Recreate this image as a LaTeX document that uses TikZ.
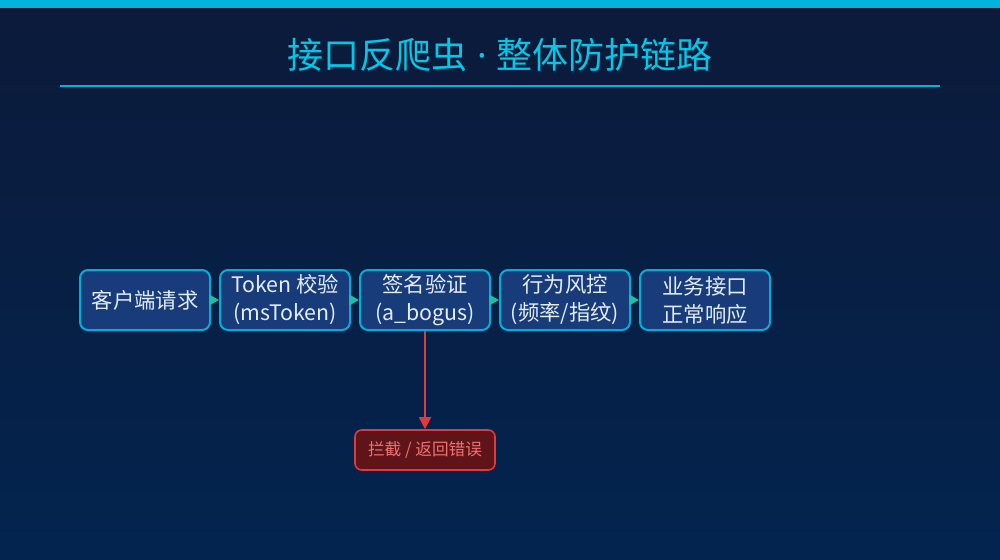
\documentclass[tikz,border=0pt]{standalone}
\usepackage{fontspec}
\setmainfont{Noto Sans CJK SC}
\newfontfamily\latinfont{Noto Sans}
\usetikzlibrary{arrows.meta}
\definecolor{bgtop}{HTML}{0C1A3A}
\definecolor{bgbot}{HTML}{03244F}
\definecolor{accent}{HTML}{00B4DC}
\definecolor{titlec}{HTML}{00C8E8}
\definecolor{boxfill}{HTML}{183C7A}
\definecolor{boxdraw}{HTML}{00AEDC}
\definecolor{boxtext}{HTML}{E4ECF6}
\definecolor{arrowc}{HTML}{18C0A8}
\definecolor{redline}{HTML}{E03A3A}
\definecolor{redfill}{HTML}{5E1418}
\definecolor{redtext}{HTML}{F07272}
\tikzset{
  stepbox/.style={draw=boxdraw, fill=boxfill, line width=1.5pt, rounded corners=6pt,
    minimum width=97.5pt, minimum height=45pt, inner sep=0pt, text=boxtext,
    align=center, font=\fontsize{16}{21}\selectfont},
  flowarrow/.style={draw=arrowc, line width=1.5pt, -{Triangle[length=7.5pt,width=8pt]}},
  stopbox/.style={draw=redline, fill=redfill, line width=1.2pt, rounded corners=5pt,
    minimum width=105pt, minimum height=30pt, inner sep=0pt, text=redtext,
    font=\fontsize{12.5}{15}\selectfont},
  stoparrow/.style={draw=redline, line width=1.2pt, -{Triangle[length=9pt,width=9pt]}}
}
\begin{document}
\begin{tikzpicture}[x=0.75pt,y=-0.75pt]
\useasboundingbox (0,0) rectangle (1000,560);
\shade[top color=bgtop, bottom color=bgbot] (0,0) rectangle (1000,560);
\fill[accent] (0,0) rectangle (1000,8);
\node[text=titlec, font=\fontsize{27}{32}\selectfont] (title) at (500,55) {接口反爬虫{\latinfont\ ·\ }整体防护链路};
\draw[accent, line width=1.5pt] (60,86) -- (940,86);
\node[stepbox] (s1) at (145,300) {客户端请求};
\node[stepbox] (s2) at (285,300) {Token 校验\\(msToken)};
\node[stepbox] (s3) at (425,300) {签名验证\\(a\_bogus)};
\node[stepbox] (s4) at (565,300) {行为风控\\(频率/指纹)};
\node[stepbox] (s5) at (705,300) {业务接口\\正常响应};
\node[stopbox] (stop) at (425,450) {拦截 / 返回错误};
\draw[flowarrow] (s1) -- (s2);
\draw[flowarrow] (s2) -- (s3);
\draw[flowarrow] (s3) -- (s4);
\draw[flowarrow] (s4) -- (s5);
\draw[stoparrow] (s3.south) -- (stop.north);
\end{tikzpicture}
\end{document}
